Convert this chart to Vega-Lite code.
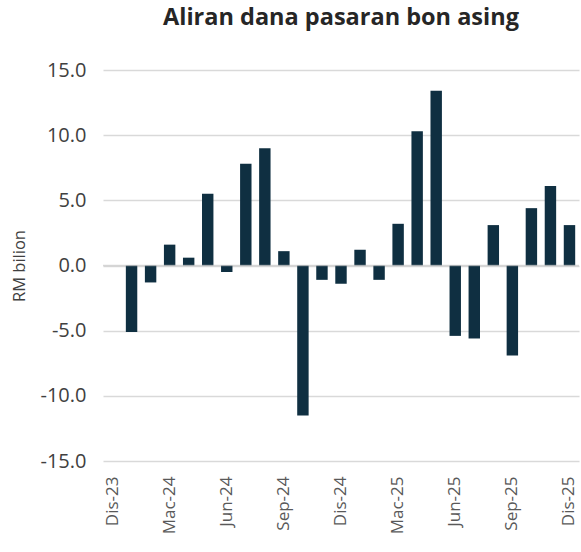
{
  "$schema": "https://vega.github.io/schema/vega-lite/v6.json",
  "width": 476,
  "height": 391,
  "autosize": {"type": "none"},
  "padding": {"left": 103, "top": 70, "right": 2, "bottom": 91},
  "background": "white",
  "title": {
    "text": "Aliran dana pasaran bon asing",
    "font": "Open Sans",
    "fontSize": 23.5,
    "fontWeight": "bold",
    "color": "#262626",
    "offset": 31
  },
  "config": {
    "view": {"stroke": null},
    "font": "Open Sans"
  },
  "data": {
    "values": [
      {"bulan": "Dis-23", "nilai": 0.0},
      {"bulan": "Jan-24", "nilai": -5.1},
      {"bulan": "Feb-24", "nilai": -1.3},
      {"bulan": "Mac-24", "nilai": 1.6},
      {"bulan": "Apr-24", "nilai": 0.6},
      {"bulan": "Mei-24", "nilai": 5.5},
      {"bulan": "Jun-24", "nilai": -0.5},
      {"bulan": "Jul-24", "nilai": 7.8},
      {"bulan": "Ogo-24", "nilai": 9.0},
      {"bulan": "Sep-24", "nilai": 1.1},
      {"bulan": "Okt-24", "nilai": -11.5},
      {"bulan": "Nov-24", "nilai": -1.1},
      {"bulan": "Dis-24", "nilai": -1.4},
      {"bulan": "Jan-25", "nilai": 1.2},
      {"bulan": "Feb-25", "nilai": -1.1},
      {"bulan": "Mac-25", "nilai": 3.2},
      {"bulan": "Apr-25", "nilai": 10.3},
      {"bulan": "Mei-25", "nilai": 13.4},
      {"bulan": "Jun-25", "nilai": -5.4},
      {"bulan": "Jul-25", "nilai": -5.6},
      {"bulan": "Ogo-25", "nilai": 3.1},
      {"bulan": "Sep-25", "nilai": -6.9},
      {"bulan": "Okt-25", "nilai": 4.4},
      {"bulan": "Nov-25", "nilai": 6.1},
      {"bulan": "Dis-25", "nilai": 3.1}
    ]
  },
  "layer": [
    {
      "mark": {"type": "bar", "color": "#0f2f41"},
      "encoding": {
        "x": {
          "field": "bulan",
          "type": "nominal",
          "sort": null,
          "scale": {"paddingInner": 0.4, "paddingOuter": 0.2},
          "axis": {
            "title": null,
            "labelAngle": -90,
            "labelAlign": "right",
            "labelBaseline": "middle",
            "labelFontSize": 17,
            "labelColor": "#595959",
            "labelPadding": 15,
            "ticks": false,
            "domain": false,
            "labelExpr": "(slice(datum.value,0,3) == 'Dis' || slice(datum.value,0,3) == 'Mac' || slice(datum.value,0,3) == 'Jun' || slice(datum.value,0,3) == 'Sep') ? datum.value : ''"
          }
        },
        "y": {
          "field": "nilai",
          "type": "quantitative",
          "scale": {"domain": [-15, 15], "nice": false},
          "axis": {
            "title": "RM bilion",
            "titleFontSize": 16.5,
            "titleFontWeight": "normal",
            "titleColor": "#404040",
            "titlePadding": 13,
            "values": [-15, -10, -5, 0, 5, 10, 15],
            "labelExpr": "replace(format(datum.value, '.1f'), '−', '-')",
            "labelFontSize": 20,
            "labelColor": "#404040",
            "labelPadding": 17,
            "ticks": false,
            "domain": false,
            "grid": true,
            "gridColor": "#d9d9d9",
            "gridWidth": 1.5
          }
        }
      }
    },
    {
      "data": {"values": [{"nol": 0}]},
      "mark": {"type": "rule", "color": "#bfbfbf", "opacity": 0.6, "strokeWidth": 1.5},
      "encoding": {"y": {"field": "nol", "type": "quantitative"}}
    }
  ]
}
